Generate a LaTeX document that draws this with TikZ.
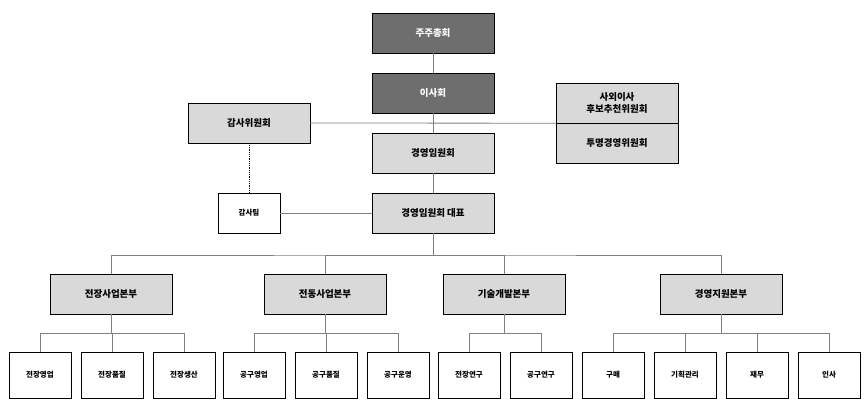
\documentclass[tikz,border=0pt]{standalone}
\usepackage{fontspec}
\setmainfont{Noto Sans CJK KR}
\usetikzlibrary{positioning}
\definecolor{boxgray}{RGB}{217,217,217}
\definecolor{topgray}{RGB}{110,110,110}
\definecolor{linegray}{RGB}{128,128,128}
\tikzset{
  box/.style={draw=black, fill=boxgray, minimum width=122pt, minimum height=40pt,
    inner sep=0pt, font=\bfseries\fontsize{9.5}{12}\selectfont, align=center},
  top/.style={box, fill=topgray, text=white},
  unit/.style={draw=black, fill=white, minimum width=62pt, minimum height=46pt,
    inner sep=0pt, font=\bfseries\fontsize{7.5}{9}\selectfont},
  link/.style={draw=linegray, thick}
}
\begin{document}
\begin{tikzpicture}[x=1pt, y=-1pt]
  \useasboundingbox (0,0) rectangle (865,405);

  \node[top] (GM)   at (433,33)  {주주총회};
  \node[top] (BD)   at (433,93)  {이사회};
  \node[box] (EC)   at (433,153) {경영임원회};
  \node[box] (CEO)  at (433,213) {경영임원회 대표};
  \node[box] (AC)   at (249,123) {감사위원회};
  \node[unit, minimum width=62pt, minimum height=40pt] (AT) at (249,213) {감사팀};
  \node[box] (ODC)  at (617,103) {사외이사\\후보추천위원회};
  \node[box] (TMC)  at (617,143) {투명경영위원회};

  \node[box] (D1) at (111,294) {전장사업본부};
  \node[box] (D2) at (325,294) {전동사업본부};
  \node[box] (D3) at (504,294) {기술개발본부};
  \node[box] (D4) at (721,294) {경영지원본부};

  \foreach \n/\x/\t in {U1/40/전장영업, U2/112/전장품질, U3/184/전장생산,
                        U4/254/공구영업, U5/326/공구품질, U6/398/공구운영,
                        U7/469/전장연구, U8/541/공구연구,
                        U9/613/구매, U10/685/기획관리, U11/757/재무, U12/829/인사}
    \node[unit] (\n) at (\x,375) {\t};

  % board line
  \draw[link] (GM) -- (BD);
  \draw[link] (BD) -- (EC);
  \draw[link] (EC) -- (CEO);
  \draw[link] (AC.east) -- (ODC.south west);
  \draw[link] (AT) -- (CEO);
  \draw[densely dotted, thick] (AC) -- (AT);

  % divisions
  \coordinate (bus) at (433,255);
  \draw[link] (CEO) -- (bus);
  \draw[link] (D1.north) |- (bus) -| (D4.north);
  \draw[link] (D2.north) |- (bus);
  \draw[link] (D3.north) |- (bus);

  % units
  \foreach \d/\a/\b/\m in {D1/U1/U3/U2, D2/U4/U6/U5, D3/U7/U8/U7, D4/U9/U12/U10} {
    \draw[link] (\d.south) -- ++(0,19) coordinate (s\d);
    \draw[link] (\a.north) |- (s\d) -| (\b.north);
  }
  \draw[link] (U2.north) |- (sD1);
  \draw[link] (U5.north) |- (sD2);
  \draw[link] (U10.north) |- (sD4);
  \draw[link] (U11.north) |- (sD4);
\end{tikzpicture}
\end{document}
